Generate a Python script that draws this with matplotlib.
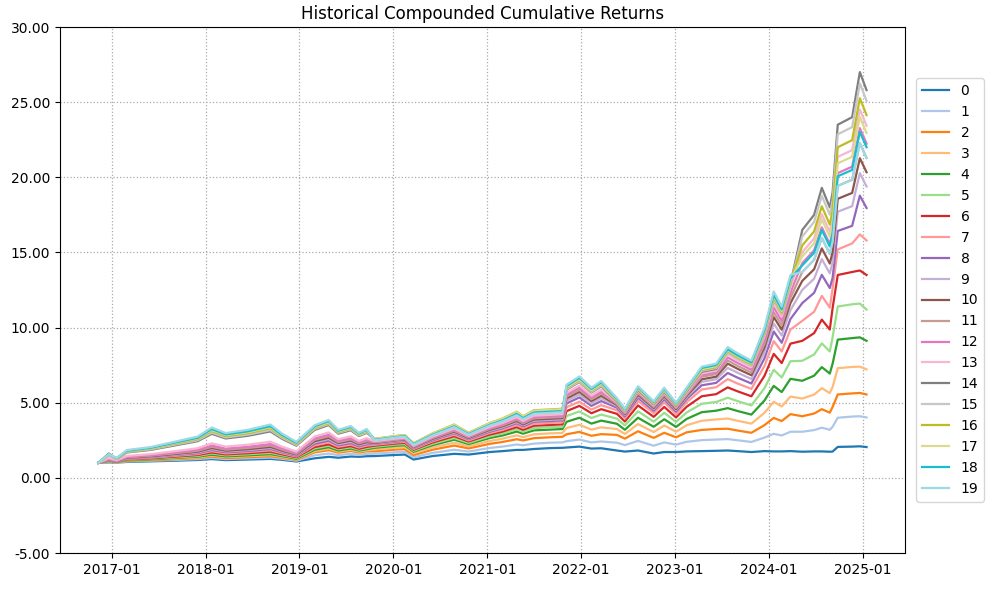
import matplotlib
matplotlib.use("Agg")
import matplotlib.pyplot as plt
import matplotlib.dates as mdates
import pandas as pd

dates = pd.to_datetime([
    "2016-11-10", "2016-12-20", "2017-01-20", "2017-03-01", "2017-06-01",
    "2017-09-01", "2017-12-01", "2018-01-25", "2018-03-20", "2018-06-15",
    "2018-09-10", "2018-10-25", "2018-12-20", "2019-03-01", "2019-04-25",
    "2019-06-01", "2019-07-20", "2019-08-20", "2019-09-20", "2019-10-20",
    "2020-01-15", "2020-02-15", "2020-03-20", "2020-06-01", "2020-08-25",
    "2020-10-20", "2021-01-10", "2021-03-01", "2021-04-25", "2021-05-20",
    "2021-07-01", "2021-09-01", "2021-10-20", "2021-11-05", "2021-12-25",
    "2022-02-10", "2022-03-20", "2022-05-20", "2022-06-20", "2022-08-10",
    "2022-10-10", "2022-11-20", "2023-01-05", "2023-02-15", "2023-04-15",
    "2023-06-10", "2023-07-25", "2023-09-01", "2023-10-25", "2023-12-15",
    "2024-01-20", "2024-02-20", "2024-03-25", "2024-05-10", "2024-06-25",
    "2024-07-25", "2024-08-25", "2024-09-05", "2024-09-25", "2024-11-20",
    "2024-12-20", "2025-01-15",
])

s0 = [1.00, 1.03, 1.02, 1.06, 1.10, 1.14, 1.19, 1.25, 1.18, 1.22,
      1.26, 1.20, 1.09, 1.30, 1.40, 1.34, 1.42, 1.40, 1.44, 1.45,
      1.53, 1.55, 1.22, 1.45, 1.60, 1.55, 1.72, 1.78, 1.86, 1.86,
      1.92, 1.98, 2.00, 2.02, 2.08, 1.95, 1.97, 1.82, 1.75, 1.82,
      1.62, 1.72, 1.72, 1.76, 1.78, 1.80, 1.82, 1.78, 1.72, 1.78,
      1.76, 1.76, 1.78, 1.74, 1.76, 1.76, 1.74, 1.75, 2.06, 2.08,
      2.10, 2.05]
s1 = [1.00, 1.05, 1.03, 1.09, 1.14, 1.19, 1.25, 1.33, 1.25, 1.30,
      1.35, 1.27, 1.14, 1.50, 1.62, 1.51, 1.60, 1.54, 1.60, 1.61,
      1.71, 1.73, 1.37, 1.66, 1.87, 1.75, 1.99, 2.08, 2.22, 2.17,
      2.28, 2.34, 2.36, 2.44, 2.55, 2.36, 2.42, 2.34, 2.18, 2.46,
      2.14, 2.36, 2.21, 2.40, 2.51, 2.55, 2.58, 2.50, 2.39, 2.68,
      2.93, 2.82, 3.07, 3.07, 3.18, 3.34, 3.20, 3.40, 4.00, 4.08,
      4.10, 4.02]
s2 = [1.00, 1.08, 1.04, 1.12, 1.18, 1.24, 1.32, 1.42, 1.32, 1.38,
      1.44, 1.34, 1.20, 1.70, 1.84, 1.68, 1.79, 1.69, 1.77, 1.77,
      1.89, 1.91, 1.52, 1.87, 2.15, 1.96, 2.26, 2.39, 2.57, 2.49,
      2.64, 2.70, 2.73, 2.90, 3.06, 2.80, 2.91, 2.86, 2.61, 3.10,
      2.66, 3.00, 2.70, 3.03, 3.19, 3.25, 3.27, 3.15, 3.00, 3.51,
      3.99, 3.78, 4.24, 4.10, 4.28, 4.57, 4.34, 4.72, 5.55, 5.62,
      5.65, 5.55]
s3 = [1.00, 1.09, 1.05, 1.15, 1.21, 1.28, 1.36, 1.48, 1.38, 1.44,
      1.51, 1.39, 1.23, 1.78, 1.94, 1.75, 1.87, 1.75, 1.84, 1.89,
      2.01, 2.04, 1.63, 2.02, 2.34, 2.10, 2.45, 2.61, 2.83, 2.71,
      2.90, 2.96, 2.99, 3.32, 3.53, 3.21, 3.36, 3.25, 2.92, 3.58,
      3.05, 3.48, 3.07, 3.50, 3.80, 3.89, 3.95, 3.80, 3.61, 4.33,
      5.06, 4.75, 5.41, 5.28, 5.54, 5.97, 5.64, 6.05, 7.30, 7.38,
      7.40, 7.22]
s4 = [1.00, 1.11, 1.06, 1.17, 1.23, 1.32, 1.41, 1.54, 1.43, 1.50,
      1.58, 1.45, 1.27, 1.87, 2.04, 1.82, 1.95, 1.82, 1.91, 2.00,
      2.14, 2.17, 1.74, 2.17, 2.54, 2.25, 2.65, 2.82, 3.08, 2.94,
      3.16, 3.21, 3.25, 3.73, 4.00, 3.61, 3.81, 3.60, 3.20, 4.00,
      3.40, 3.90, 3.39, 3.92, 4.37, 4.47, 4.64, 4.45, 4.21, 5.15,
      6.12, 5.71, 6.59, 6.46, 6.80, 7.37, 6.94, 7.60, 9.20, 9.30,
      9.35, 9.12]
s5 = [1.00, 1.13, 1.07, 1.20, 1.27, 1.36, 1.46, 1.62, 1.50, 1.57,
      1.66, 1.51, 1.32, 1.96, 2.14, 1.90, 2.03, 1.88, 1.98, 2.07,
      2.22, 2.25, 1.80, 2.26, 2.65, 2.33, 2.76, 2.95, 3.23, 3.07,
      3.31, 3.37, 3.40, 4.11, 4.42, 3.98, 4.21, 3.94, 3.49, 4.43,
      3.74, 4.33, 3.72, 4.35, 4.93, 5.05, 5.33, 5.11, 4.82, 5.97,
      7.19, 6.68, 7.76, 7.79, 8.21, 8.95, 8.41, 9.35, 11.40, 11.55,
      11.60, 11.20]
s6 = [1.00, 1.15, 1.08, 1.23, 1.30, 1.41, 1.52, 1.69, 1.56, 1.64,
      1.74, 1.57, 1.37, 2.05, 2.23, 1.97, 2.11, 1.94, 2.06, 2.14,
      2.29, 2.33, 1.87, 2.35, 2.77, 2.42, 2.88, 3.08, 3.38, 3.20,
      3.47, 3.52, 3.56, 4.44, 4.79, 4.30, 4.57, 4.26, 3.75, 4.82,
      4.06, 4.72, 4.02, 4.73, 5.43, 5.57, 6.02, 5.76, 5.43, 6.79,
      8.25, 7.64, 8.93, 9.12, 9.63, 10.53, 9.87, 11.30, 13.50, 13.70,
      13.80, 13.50]
s7 = [1.00, 1.17, 1.10, 1.26, 1.34, 1.46, 1.58, 1.78, 1.63, 1.72,
      1.83, 1.64, 1.42, 2.16, 2.36, 2.07, 2.21, 2.02, 2.15, 2.20,
      2.36, 2.40, 1.92, 2.43, 2.87, 2.49, 2.98, 3.19, 3.51, 3.32,
      3.60, 3.65, 3.69, 4.70, 5.07, 4.54, 4.84, 4.50, 3.95, 5.12,
      4.30, 5.02, 4.25, 5.03, 5.88, 6.03, 6.57, 6.28, 5.92, 7.45,
      9.10, 8.41, 9.87, 10.45, 11.05, 12.11, 11.33, 12.60, 15.20, 15.60,
      16.20, 15.80]
s8 = [1.00, 1.20, 1.11, 1.29, 1.38, 1.51, 1.64, 1.86, 1.70, 1.79,
      1.92, 1.71, 1.47, 2.27, 2.48, 2.16, 2.31, 2.10, 2.24, 2.26,
      2.42, 2.46, 1.98, 2.50, 2.97, 2.57, 3.07, 3.30, 3.64, 3.43,
      3.73, 3.78, 3.82, 4.95, 5.35, 4.79, 5.11, 4.67, 4.09, 5.33,
      4.47, 5.23, 4.41, 5.24, 6.16, 6.32, 6.98, 6.67, 6.28, 7.95,
      9.74, 8.99, 10.57, 11.63, 12.31, 13.51, 12.63, 13.31, 16.43, 16.77,
      18.78, 17.96]
s9 = [1.00, 1.21, 1.12, 1.31, 1.40, 1.54, 1.69, 1.92, 1.76, 1.85,
      1.99, 1.76, 1.51, 2.36, 2.58, 2.23, 2.39, 2.17, 2.31, 2.29,
      2.46, 2.50, 2.01, 2.55, 3.02, 2.61, 3.13, 3.36, 3.71, 3.50,
      3.80, 3.86, 3.90, 5.11, 5.54, 4.95, 5.29, 4.78, 4.17, 5.46,
      4.58, 5.36, 4.51, 5.36, 6.39, 6.56, 7.32, 7.00, 6.58, 8.36,
      10.27, 9.47, 11.16, 12.51, 13.25, 14.56, 13.61, 14.34, 17.71, 18.08,
      20.28, 19.39]
s10 = [1.00, 1.23, 1.13, 1.34, 1.43, 1.58, 1.74, 1.99, 1.81, 1.91,
       2.06, 1.81, 1.55, 2.44, 2.67, 2.31, 2.48, 2.23, 2.38, 2.32,
       2.50, 2.54, 2.04, 2.59, 3.08, 2.65, 3.19, 3.43, 3.79, 3.56,
       3.88, 3.93, 3.98, 5.28, 5.72, 5.11, 5.46, 4.85, 4.23, 5.54,
       4.65, 5.44, 4.57, 5.45, 6.56, 6.73, 7.60, 7.26, 6.83, 8.69,
       10.70, 9.86, 11.63, 13.11, 13.88, 15.27, 14.26, 15.03, 18.57, 18.96,
       21.27, 20.34]
s11 = [1.00, 1.25, 1.14, 1.37, 1.47, 1.63, 1.80, 2.07, 1.88, 1.99,
       2.15, 1.88, 1.60, 2.53, 2.77, 2.38, 2.56, 2.30, 2.45, 2.36,
       2.53, 2.58, 2.07, 2.64, 3.14, 2.70, 3.25, 3.49, 3.87, 3.63,
       3.96, 4.01, 4.05, 5.41, 5.86, 5.23, 5.60, 4.92, 4.29, 5.63,
       4.72, 5.53, 4.64, 5.53, 6.73, 6.90, 7.81, 7.45, 7.01, 8.93,
       11.02, 10.15, 11.98, 13.70, 14.51, 15.97, 14.91, 15.72, 19.43, 19.84,
       22.27, 21.29]
s12 = [1.00, 1.28, 1.15, 1.40, 1.51, 1.68, 1.86, 2.15, 1.95, 2.07,
       2.25, 1.95, 1.65, 2.62, 2.87, 2.46, 2.64, 2.36, 2.53, 2.39,
       2.57, 2.62, 2.11, 2.68, 3.20, 2.74, 3.30, 3.56, 3.94, 3.70,
       4.04, 4.09, 4.13, 5.53, 6.00, 5.35, 5.73, 4.99, 4.34, 5.72,
       4.79, 5.62, 4.71, 5.62, 6.84, 7.02, 8.01, 7.65, 7.19, 9.18,
       11.34, 10.44, 12.33, 14.29, 15.14, 16.67, 15.56, 16.41, 20.28, 20.71,
       23.27, 22.24]
s13 = [1.00, 1.32, 1.17, 1.46, 1.58, 1.77, 1.97, 2.30, 2.08, 2.21,
       2.41, 2.08, 1.75, 2.75, 3.02, 2.57, 2.76, 2.46, 2.64, 2.44,
       2.62, 2.67, 2.15, 2.74, 3.28, 2.80, 3.38, 3.65, 4.04, 3.79,
       4.14, 4.19, 4.24, 5.66, 6.14, 5.47, 5.87, 5.02, 4.37, 5.76,
       4.82, 5.66, 4.74, 5.66, 6.95, 7.14, 8.22, 7.84, 7.37, 9.43,
       11.66, 10.73, 12.68, 15.02, 15.93, 17.55, 16.37, 17.28, 21.36, 21.81,
       24.51, 23.43]
s14 = [1.00, 1.62, 1.26, 1.69, 1.86, 2.15, 2.44, 2.93, 2.62, 2.80,
       3.09, 2.60, 2.14, 3.19, 3.51, 2.94, 3.17, 2.78, 3.00, 2.57,
       2.76, 2.81, 2.27, 2.91, 3.49, 2.96, 3.59, 3.89, 4.32, 4.03,
       4.42, 4.47, 4.52, 5.87, 6.38, 5.68, 6.09, 5.09, 4.43, 5.84,
       4.89, 5.74, 4.80, 5.75, 7.06, 7.25, 8.36, 7.97, 7.50, 9.59,
       11.87, 10.92, 12.91, 16.50, 17.50, 19.30, 18.00, 19.00, 23.50, 24.00,
       27.00, 25.80]
s15 = [1.00, 1.52, 1.27, 1.72, 1.90, 2.20, 2.50, 3.01, 2.69, 2.88,
       3.18, 2.67, 2.19, 3.26, 3.58, 3.00, 3.23, 2.82, 3.05, 2.55,
       2.75, 2.80, 2.26, 2.89, 3.47, 2.94, 3.57, 3.86, 4.30, 4.01,
       4.40, 4.45, 4.50, 5.91, 6.42, 5.72, 6.14, 5.13, 4.46, 5.89,
       4.93, 5.79, 4.84, 5.79, 7.12, 7.31, 8.33, 7.95, 7.48, 9.57,
       11.84, 10.89, 12.88, 16.06, 17.03, 18.77, 17.51, 18.48, 22.86, 23.34,
       26.25, 25.09]
s16 = [1.00, 1.54, 1.29, 1.76, 1.95, 2.26, 2.58, 3.12, 2.78, 2.98,
       3.30, 2.76, 2.26, 3.32, 3.65, 3.05, 3.29, 2.87, 3.11, 2.60,
       2.80, 2.85, 2.30, 2.95, 3.55, 3.00, 3.65, 3.95, 4.40, 4.10,
       4.50, 4.55, 4.60, 5.99, 6.52, 5.80, 6.23, 5.16, 4.49, 5.93,
       4.96, 5.83, 4.87, 5.83, 7.18, 7.37, 8.43, 8.04, 7.56, 9.67,
       11.97, 11.01, 13.03, 15.47, 16.40, 18.07, 16.86, 17.79, 22.00, 22.47,
       25.26, 24.14]
s17 = [1.00, 1.55, 1.30, 1.79, 1.97, 2.30, 2.63, 3.18, 2.84, 3.04,
       3.37, 2.81, 2.30, 3.37, 3.70, 3.09, 3.33, 2.90, 3.14, 2.59,
       2.79, 2.84, 2.29, 2.94, 3.53, 2.99, 3.63, 3.93, 4.38, 4.08,
       4.47, 4.52, 4.57, 6.03, 6.56, 5.84, 6.27, 5.20, 4.52, 5.97,
       5.00, 5.87, 4.90, 5.87, 7.23, 7.43, 8.49, 8.10, 7.62, 9.75,
       12.08, 11.11, 13.15, 14.73, 15.61, 17.20, 16.05, 16.93, 20.93, 21.37,
       24.01, 22.95]
s18 = [1.00, 1.56, 1.31, 1.81, 2.00, 2.34, 2.67, 3.25, 2.89, 3.10,
       3.44, 2.86, 2.34, 3.43, 3.78, 3.14, 3.39, 2.95, 3.20, 2.53,
       2.72, 2.77, 2.24, 2.86, 3.43, 2.91, 3.53, 3.82, 4.25, 3.97,
       4.35, 4.40, 4.44, 6.12, 6.66, 5.92, 6.36, 5.25, 4.56, 6.04,
       5.05, 5.94, 4.95, 5.94, 7.32, 7.51, 8.56, 8.17, 7.68, 9.84,
       12.19, 11.21, 13.27, 14.14, 14.98, 16.49, 15.40, 16.24, 20.07, 20.49,
       23.02, 22.00]
s19 = [1.00, 1.57, 1.32, 1.85, 2.05, 2.40, 2.75, 3.35, 2.98, 3.20,
       3.55, 2.95, 2.40, 3.50, 3.85, 3.20, 3.45, 3.00, 3.25, 2.50,
       2.69, 2.73, 2.20, 2.82, 3.38, 2.87, 3.48, 3.76, 4.17, 3.90,
       4.27, 4.32, 4.37, 6.20, 6.75, 6.00, 6.45, 5.30, 4.60, 6.10,
       5.10, 6.00, 5.00, 6.00, 7.40, 7.60, 8.70, 8.30, 7.80, 10.00,
       12.40, 11.40, 13.50, 13.70, 14.51, 15.97, 14.91, 15.72, 19.43, 19.84,
       22.27, 21.29]

series = [s0, s1, s2, s3, s4, s5, s6, s7, s8, s9,
          s10, s11, s12, s13, s14, s15, s16, s17, s18, s19]
labels = [str(i) for i in range(20)]
y_ticks = [-5, 0, 5, 10, 15, 20, 25, 30]

fig = plt.figure(figsize=(9.95, 5.9), dpi=100)
ax = fig.add_axes([0.0603, 0.0627, 0.8492, 0.8915])
cmap = plt.get_cmap("tab20")
for i, (vals, lab) in enumerate(zip(series, labels)):
    ax.plot(dates, vals, color=cmap(i), lw=1.6, label=lab)

ax.set_title("Historical Compounded Cumulative Returns", fontsize=12)
ax.set_ylim(-5, 30)
ax.set_yticks(y_ticks)
ax.yaxis.set_major_formatter(matplotlib.ticker.FormatStrFormatter("%.2f"))
ax.xaxis.set_major_locator(mdates.YearLocator())
ax.xaxis.set_major_formatter(mdates.DateFormatter("%Y-%m"))
ax.grid(True, linestyle=":", color="#aaaaaa", linewidth=0.9)
ax.legend(loc="center left", bbox_to_anchor=(1.005, 0.5), fontsize=10)

fig.savefig("out.png", dpi=100)
